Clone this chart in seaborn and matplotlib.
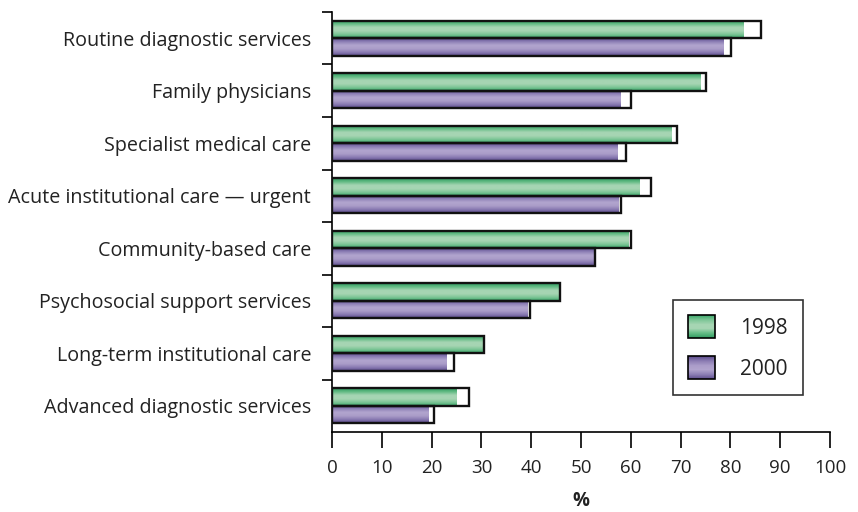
import numpy as np
import pandas as pd
import matplotlib
matplotlib.use("Agg")
import matplotlib.pyplot as plt
import seaborn as sns
from matplotlib.colors import LinearSegmentedColormap
from matplotlib.legend_handler import HandlerBase
from matplotlib.patches import Rectangle

categories = [
    "Routine diagnostic services",
    "Family physicians",
    "Specialist medical care",
    "Acute institutional care \u2014 urgent",
    "Community-based care",
    "Psychosocial support services",
    "Long-term institutional care",
    "Advanced diagnostic services",
]
years = ["1998", "2000"]
value_1998 = [86.1, 75.1, 69.2, 64.0, 60.0, 45.7, 30.5, 27.5]
value_2000 = [80.2, 60.0, 59.0, 58.0, 52.9, 39.7, 24.5, 20.4]
fill_1998 = [82.7, 73.9, 68.1, 61.8, 59.5, 45.6, 30.4, 25.0]
fill_2000 = [78.7, 58.0, 57.3, 57.5, 52.6, 39.2, 23.0, 19.4]
x_ticks = list(range(0, 101, 10))

df = pd.DataFrame({
    "category": categories * 2,
    "year": [years[0]] * len(categories) + [years[1]] * len(categories),
    "value": value_1998 + value_2000,
    "fill": fill_1998 + fill_2000,
})

sns.set_theme(style="white")
plt.rcParams["font.family"] = ["Open Sans", "DejaVu Sans"]
text_color = "#222222"

green_mid = "#5cb87f"
purple_mid = "#8b7bb3"
cmap_g = LinearSegmentedColormap.from_list(
    "g", ["#2f9a5f", "#62bb84", "#a6d5b3", "#a6d5b3", "#7cc596", "#3aa668"])
cmap_p = LinearSegmentedColormap.from_list(
    "p", ["#5e4d8e", "#8e80b6", "#b2a5ce", "#ab9dc9", "#8a7bb2", "#5a4a8a"])

fig, ax = plt.subplots(figsize=(8.58, 5.12), dpi=100)
fig.subplots_adjust(left=0.387, right=0.9674, bottom=0.156, top=0.9766)

sns.barplot(data=df, y="category", x="fill", hue="year", orient="h",
            width=0.667, palette=[green_mid, purple_mid], saturation=1,
            errorbar=None, linewidth=0, legend=False, ax=ax)
fill_patches = list(ax.patches)
sns.barplot(data=df, y="category", x="value", hue="year", orient="h",
            width=0.667, palette=[green_mid, purple_mid], saturation=1,
            errorbar=None, fill=False, legend=False, ax=ax)
outline_patches = list(ax.patches)[len(fill_patches):]

grad = np.linspace(0, 1, 64).reshape(-1, 1)
for p in fill_patches:
    fc = np.array(p.get_facecolor()[:3])
    is_green = fc[1] > fc[0] + 0.2
    cm = cmap_g if is_green else cmap_p
    x0, y0, w, h = p.get_x(), p.get_y(), p.get_width(), p.get_height()
    ax.imshow(grad, extent=[x0, x0 + w, y0 + h, y0], aspect="auto",
              cmap=cm, zorder=2, interpolation="bilinear")
    p.set_visible(False)

for p in outline_patches:
    p.set_facecolor("none")
    p.set_edgecolor("#111111")
    p.set_linewidth(1.7)
    p.set_zorder(4)

ax.set_xlim(0, 100)
ax.set_ylim(len(categories) - 0.5, -0.5)
ax.set_xticks(x_ticks)
ax.set_xticklabels([str(t) for t in x_ticks], fontsize=13.5, color=text_color)
ax.set_yticks(range(len(categories)))
ax.set_yticklabels(categories, fontsize=14.2, color=text_color)
ax.set_yticks(np.arange(-0.5, len(categories) - 0.5, 1), minor=True)
ax.tick_params(axis="y", which="major", length=0, pad=15)
ax.tick_params(axis="y", which="minor", length=7, width=1.2, direction="out",
               left=True, color="black")
ax.tick_params(axis="x", which="major", length=11.5, width=1.2,
               direction="out", bottom=True, pad=8, color="black")
for s in ["top", "right"]:
    ax.spines[s].set_visible(False)
for s in ["left", "bottom"]:
    ax.spines[s].set_color("black")
    ax.spines[s].set_linewidth(1.2)
ax.set_ylabel("")
ax.set_xlabel("%", fontsize=13.5, fontweight="bold", color=text_color, labelpad=10)


class GradHandler(HandlerBase):
    def __init__(self, cmap):
        super().__init__()
        self.cmap = cmap

    def create_artists(self, legend, orig_handle, xdescent, ydescent,
                       width, height, fontsize, trans):
        n = 24
        arts = []
        for i in range(n):
            y = -ydescent + height * i / n
            arts.append(Rectangle((-xdescent, y), width, height / n,
                                  facecolor=self.cmap((i + 0.5) / n),
                                  edgecolor="none", transform=trans))
        arts.append(Rectangle((-xdescent, -ydescent), width, height,
                              facecolor="none", edgecolor="black", lw=1.2,
                              transform=trans))
        return arts


h1 = Rectangle((0, 0), 1, 1)
h2 = Rectangle((0, 0), 1, 1)
leg = ax.legend([h1, h2], years, handler_map={h1: GradHandler(cmap_g),
                                               h2: GradHandler(cmap_p)},
                loc="upper left", bbox_to_anchor=(0.685, 0.314),
                fontsize=15, frameon=True, fancybox=False,
                handlelength=1.3, handleheight=1.3, handletextpad=1.2,
                labelspacing=0.85, borderpad=0.72, borderaxespad=0)
leg.get_frame().set_edgecolor("black")
leg.get_frame().set_linewidth(1.2)
for t in leg.get_texts():
    t.set_color(text_color)

fig.savefig("out.png", dpi=100)
